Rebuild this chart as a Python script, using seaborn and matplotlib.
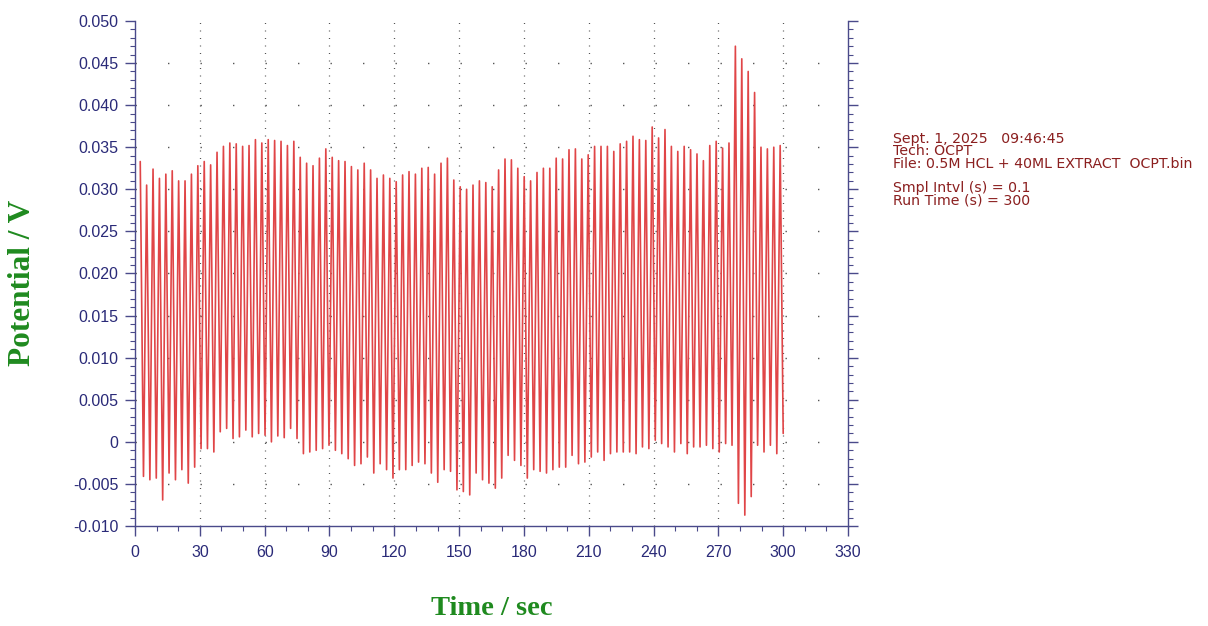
import numpy as np
import pandas as pd
import matplotlib
matplotlib.use("Agg")
import matplotlib.pyplot as plt
from matplotlib.ticker import MultipleLocator, FuncFormatter
import seaborn as sns

# ---------------- data ----------------
peaks = [
    0.0333, 0.0305, 0.0324, 0.0313, 0.0318, 0.0322, 0.0310, 0.0310, 0.0318, 0.0328,
    0.0333, 0.0329, 0.0344, 0.0351, 0.0355, 0.0354, 0.0351, 0.0352, 0.0359, 0.0355,
    0.0359, 0.0358, 0.0357, 0.0352, 0.0357, 0.0338, 0.0331, 0.0328, 0.0337, 0.0348,
    0.0338, 0.0334, 0.0333, 0.0327, 0.0323, 0.0331, 0.0323, 0.0313, 0.0317, 0.0313,
    0.0309, 0.0317, 0.0321, 0.0318, 0.0325, 0.0326, 0.0318, 0.0331, 0.0337,
    0.0311, 0.0303, 0.0300, 0.0305, 0.0310, 0.0308, 0.0303, 0.0323, 0.0336, 0.0335,
    0.0325, 0.0315, 0.0310, 0.0320, 0.0325, 0.0325, 0.0337, 0.0336, 0.0347, 0.0348,
    0.0336, 0.0341, 0.0351, 0.0351, 0.0351, 0.0345, 0.0354, 0.0357, 0.0363, 0.0359,
    0.0358, 0.0374, 0.0361, 0.0371, 0.0351, 0.0345, 0.0351, 0.0347, 0.0342, 0.0334,
    0.0352, 0.0357, 0.0349, 0.0355, 0.0470, 0.0455, 0.0440, 0.0415, 0.0350, 0.0348,
    0.0350, 0.0352,
]
troughs = [
    -0.0041, -0.0045, -0.0043, -0.0069, -0.0037, -0.0045, -0.0033, -0.0049, -0.0030, -0.0008,
    -0.0008, -0.0012, 0.0012, 0.0016, 0.0004, 0.0006, 0.0014, 0.0006, 0.0010, 0.0008,
    0.0000, 0.0007, 0.0005, 0.0016, 0.0004, -0.0014, -0.0012, -0.0010, -0.0008, -0.0004,
    -0.0010, -0.0014, -0.0020, -0.0028, -0.0026, -0.0018, -0.0037, -0.0026, -0.0033, -0.0043,
    -0.0033, -0.0033, -0.0028, -0.0024, -0.0026, -0.0037, -0.0048, -0.0033, -0.0035,
    -0.0057, -0.0059, -0.0063, -0.0037, -0.0045, -0.0049, -0.0055, -0.0043, -0.0016, -0.0022,
    -0.0028, -0.0043, -0.0033, -0.0035, -0.0037, -0.0033, -0.0030, -0.0030, -0.0016, -0.0026,
    -0.0024, -0.0018, -0.0012, -0.0022, -0.0014, -0.0012, -0.0012, -0.0012, -0.0014, -0.0006,
    -0.0008, 0.0002, -0.0002, -0.0006, -0.0012, -0.0002, -0.0014, -0.0006, -0.0006, -0.0004,
    -0.0008, -0.0012, -0.0002, -0.0004, -0.0073, -0.0087, -0.0065, -0.0004, -0.0012, -0.0004,
    -0.0014, 0.0010,
]
first_peak_time = 2.4
last_peak_time = 298.6
first_trough_time = 3.9
last_trough_time = 300.0

x_ticks = [0, 30, 60, 90, 120, 150, 180, 210, 240, 270, 300, 330]
y_ticks = [-0.010, -0.005, 0, 0.005, 0.010, 0.015, 0.020, 0.025, 0.030, 0.035, 0.040, 0.045, 0.050]

info_lines = [
    "Sept. 1, 2025   09:46:45",
    "Tech: OCPT",
    "File: 0.5M HCL + 40ML EXTRACT  OCPT.bin",
    "",
    "Smpl Intvl (s) = 0.1",
    "Run Time (s) = 300",
]

# ---------------- build series ----------------
peak_t = np.linspace(first_peak_time, last_peak_time, len(peaks))
trough_t = np.linspace(first_trough_time, last_trough_time, len(troughs))
n = min(len(peaks), len(troughs))
time = np.empty(2 * n)
pot = np.empty(2 * n)
time[0::2] = peak_t[:n]
time[1::2] = trough_t[:n]
pot[0::2] = np.array(peaks[:n])
pot[1::2] = np.array(troughs[:n])
df = pd.DataFrame({"Time": time, "Potential": pot})

# ---------------- styling ----------------
sns.set_style("white")
plt.rcParams["font.family"] = ["Liberation Sans", "DejaVu Sans"]

navy = "#2a2a78"
axis_col = "#4a4a8a"
green = "#1f8a1f"
red = "#e04547"

fig = plt.figure(figsize=(12.08, 6.26), dpi=100)
ax = fig.add_axes([0.1118, 0.1597, 0.702 - 0.1118, 0.9665 - 0.1597])

sns.lineplot(data=df, x="Time", y="Potential", ax=ax, sort=False,
             estimator=None, color=red, linewidth=1.2)

ax.set_xlim(x_ticks[0], x_ticks[-1])
ax.set_ylim(y_ticks[0], y_ticks[-1])
ax.set_xticks(x_ticks)
ax.set_yticks(y_ticks)
ax.xaxis.set_minor_locator(MultipleLocator(10))
ax.yaxis.set_minor_locator(MultipleLocator(0.001))

def yfmt(v, pos):
    if abs(v) < 1e-12:
        return "0"
    return f"{v:.3f}"

ax.yaxis.set_major_formatter(FuncFormatter(yfmt))

for side in ["left", "bottom", "right"]:
    ax.spines[side].set_visible(True)
    ax.spines[side].set_color(axis_col)
    ax.spines[side].set_linewidth(1.0)
ax.spines["top"].set_visible(False)

ax.tick_params(axis="both", which="major", direction="out", length=7, width=1,
               color=axis_col, labelcolor=navy, labelsize=11.5)
ax.tick_params(axis="both", which="minor", direction="out", length=3.5, width=0.8,
               color=axis_col)
ax.tick_params(axis="y", which="both", left=True, right=True, labelright=False)
ax.tick_params(axis="x", which="both", bottom=True, top=False)
ax.tick_params(axis="x", which="major", pad=7)
ax.tick_params(axis="y", which="major", pad=5)

# grid: dotted verticals at major x, sparse dots at major y
ax.grid(False)
for xv in x_ticks[1:-1]:
    ax.axvline(xv, color="#555555", linewidth=0.9, linestyle=(0, (0.8, 5.2)), zorder=0)
for yv in y_ticks[1:-1]:
    ax.axhline(yv, color="#555555", linewidth=1.0, linestyle=(0, (1.0, 22.4)), zorder=0)

ax.set_xlabel("Time / sec", fontsize=20.5, fontweight="bold", color=green,
              family=["Liberation Serif", "DejaVu Serif"])
ax.set_ylabel("Potential / V", fontsize=22.5, fontweight="bold", color=green,
              family=["Liberation Serif", "DejaVu Serif"])
ax.xaxis.set_label_coords(0.5007, -0.138)
ax.yaxis.set_label_coords(-0.138, 0.481)

fig.text(0.739, 0.789, "\n".join(info_lines), fontsize=10.2, color="#8b1f1f",
         va="top", ha="left", linespacing=0.84,
         family=["DejaVu Sans"])

fig.savefig("out.png", dpi=100)
